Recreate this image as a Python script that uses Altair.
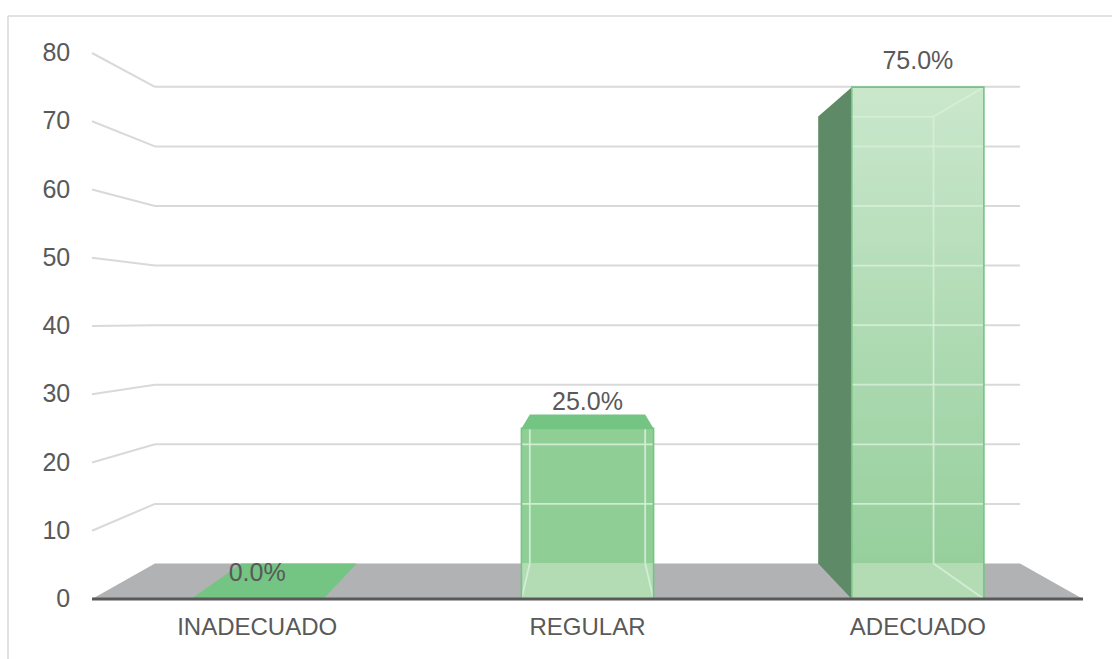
import altair as alt
import pandas as pd

# ---- data -------------------------------------------------------------
categories = ["INADECUADO", "REGULAR", "ADECUADO"]
percentages = [0.0, 25.0, 75.0]
tick_values = [0, 10, 20, 30, 40, 50, 60, 70, 80]
tick_labels = ["0", "10", "20", "30", "40", "50", "60", "70", "80"]

# ---- pseudo-3D geometry (x in category slots, y in value units) -------
BAR_WIDTH = 0.40          # front face width, in slots
DEPTH = 0.873             # back plane scale relative to the front plane
VANISH_X, VANISH_Y = 1.5, 41.0
N_SLOTS = len(categories)

# ---- canvas layout ------------------------------------------------------
W, H = 1104, 643          # plot area (chart border box)
SLOT_PX, UNIT_PX = 330.33, 6.825
ORIGIN_X, ORIGIN_Y = 84, 583   # where (0, 0) of the front plane sits
X_DOMAIN = [-ORIGIN_X / SLOT_PX, (W - ORIGIN_X) / SLOT_PX]
Y_DOMAIN = [-(H - ORIGIN_Y) / UNIT_PX, ORIGIN_Y / UNIT_PX]
Y_LABEL_X = -0.066
CAT_LABEL_Y = -4.2

FONT = "Liberation Sans"
TEXT = "#595959"
GRID = "#d9d9d9"


def back(x, y):
    """Project a front-plane point onto the back plane."""
    return VANISH_X + DEPTH * (x - VANISH_X), VANISH_Y + DEPTH * (y - VANISH_Y)


xs = alt.Scale(domain=X_DOMAIN, nice=False, zero=False)
ys = alt.Scale(domain=Y_DOMAIN, nice=False, zero=False)

# floor
fx0, floor_back = back(0, 0)
fx1, _ = back(N_SLOTS, 0)
floor_df = pd.DataFrame({"y": [0, floor_back], "x": [0, fx0], "x2": [N_SLOTS, fx1]})

# wall grid lines
side_rows, back_rows = [], []
for g in tick_values[1:]:
    bx0, by = back(0, g)
    bx1, _ = back(N_SLOTS, g)
    side_rows.append({"x": 0, "y": g, "x2": bx0, "y2": by})
    back_rows.append({"x": bx0, "y": by, "x2": bx1, "y2": by})
side_df = pd.DataFrame(side_rows)
backgrid_df = pd.DataFrame(back_rows)

# bars
front_rows, band_rows, top_rows, face_rows, inner_rows, label_rows = [], [], [], [], [], []
for i, (cat, v) in enumerate(zip(categories, percentages)):
    c = i + 0.5
    a, b = c - BAR_WIDTH / 2, c + BAR_WIDTH / 2
    a2, y0b = back(a, 0)
    b2, _ = back(b, 0)
    _, vtb = back(a, v)
    label_rows.append({"category": cat, "x": c, "y": v, "label": f"{v:.1f}%"})

    # top face (visible when the top lies below the eye level)
    if v < VANISH_Y:
        top_rows += [{"bar": cat, "y": v, "x": a, "x2": b},
                     {"bar": cat, "y": vtb, "x": a2, "x2": b2}]
    if v <= 0:
        continue

    front_rows.append({"category": cat, "x": a, "x2": b, "y": y0b, "y2": v, "y0": 0})
    band_rows.append({"category": cat, "x": a, "x2": b, "y": 0, "y2": y0b})

    # side faces
    if a > VANISH_X:
        face_rows += [{"bar": cat, "x": a2, "y": y0b, "y2": vtb},
                      {"bar": cat, "x": a, "y": 0, "y2": v}]
    if b < VANISH_X:
        face_rows += [{"bar": cat, "x": b, "y": 0, "y2": v},
                      {"bar": cat, "x": b2, "y": y0b, "y2": vtb}]

    # edges of the far side seen through the translucent front
    top_in = min(vtb, v)
    if a2 > a:
        inner_rows.append({"x": a2, "x2": a2, "y": y0b, "y2": top_in})
        inner_rows.append({"x": a2, "x2": a, "y": y0b, "y2": 0})
        if vtb < v:
            inner_rows.append({"x": a2, "x2": a, "y": vtb, "y2": v})
    if b2 < b:
        inner_rows.append({"x": b2, "x2": b2, "y": y0b, "y2": top_in})
        inner_rows.append({"x": b2, "x2": b, "y": y0b, "y2": 0})
        if vtb < v:
            inner_rows.append({"x": b2, "x2": b, "y": vtb, "y2": v})
    if vtb < v:
        inner_rows.append({"x": max(a, a2), "x2": min(b, b2), "y": vtb, "y2": vtb})
    for g in tick_values[1:]:
        _, gy = back(0, g)
        if y0b < gy < top_in - 0.5:
            inner_rows.append({"x": a, "x2": b, "y": gy, "y2": gy})

front_df = pd.DataFrame(front_rows)
band_df = pd.DataFrame(band_rows)
top_df = pd.DataFrame(top_rows)
face_df = pd.DataFrame(face_rows)
inner_df = pd.DataFrame(inner_rows)
label_df = pd.DataFrame(label_rows)

ticks_df = pd.DataFrame({"y": tick_values, "label": tick_labels, "x": Y_LABEL_X})
cats_df = pd.DataFrame({"x": [i + 0.5 for i in range(N_SLOTS)], "y": CAT_LABEL_Y,
                        "label": categories})
axis_df = pd.DataFrame({"x": [0], "x2": [N_SLOTS], "y": [0]})


def seg(df, color, width, opacity=1.0):
    return alt.Chart(df).mark_rule(color=color, strokeWidth=width, opacity=opacity).encode(
        x=alt.X("x:Q", scale=xs, axis=None), x2="x2:Q",
        y=alt.Y("y:Q", scale=ys, axis=None), y2="y2:Q")


border = alt.layer(
    alt.Chart(axis_df).mark_rule(color=GRID, strokeWidth=1.5).encode(
        x=alt.value(0), y=alt.value(0), y2=alt.value(H)),
    alt.Chart(axis_df).mark_rule(color=GRID, strokeWidth=1.5).encode(
        x=alt.value(0), x2=alt.value(W), y=alt.value(0)),
)

floor = alt.Chart(floor_df).mark_area(orient="horizontal", color="#b1b2b4").encode(
    y=alt.Y("y:Q", scale=ys, axis=None),
    x=alt.X("x:Q", scale=xs, axis=None), x2="x2:Q")

side_grid = seg(side_df, GRID, 2)
back_grid = seg(backgrid_df, GRID, 2)

top_faces = alt.Chart(top_df).mark_area(orient="horizontal", color="#74c483").encode(
    y=alt.Y("y:Q", scale=ys, axis=None),
    x=alt.X("x:Q", scale=xs, axis=None), x2="x2:Q", detail="bar:N")

side_faces = alt.Chart(face_df).mark_area(color="#5f8a67").encode(
    x=alt.X("x:Q", scale=xs, axis=None),
    y=alt.Y("y:Q", scale=ys, axis=None), y2="y2:Q", detail="bar:N")

front_base = alt.Chart(front_df).encode(
    x=alt.X("x:Q", scale=xs, axis=None), x2="x2:Q",
    y=alt.Y("y:Q", scale=ys, axis=None), y2="y2:Q")

front_plain = front_base.mark_rect(color="#8fcf96").transform_filter(
    alt.datum.category != "ADECUADO")

front_light = front_base.mark_rect(
    fill=alt.LinearGradient(
        gradient="linear", x1=0, x2=0, y1=0, y2=1,
        stops=[alt.GradientStop(color="#cae7cc", offset=0),
               alt.GradientStop(color="#96cf9c", offset=1)])
).transform_filter(alt.datum.category == "ADECUADO")

band = alt.Chart(band_df).mark_rect(color="#b3dcb5").encode(
    x=alt.X("x:Q", scale=xs, axis=None), x2="x2:Q",
    y=alt.Y("y:Q", scale=ys, axis=None), y2="y2:Q")

inner = seg(inner_df, "#d6eed7", 1.8, 0.9)

outline = alt.Chart(front_df).mark_rect(
    fillOpacity=0, stroke="#72c582", strokeWidth=1.6).encode(
    x=alt.X("x:Q", scale=xs, axis=None), x2="x2:Q",
    y=alt.Y("y0:Q", scale=ys, axis=None), y2="y2:Q")

axis_line = alt.Chart(axis_df).mark_rule(color="#595959", strokeWidth=3).encode(
    x=alt.X("x:Q", scale=xs, axis=None), x2="x2:Q",
    y=alt.Y("y:Q", scale=ys, axis=None))

tick_text = alt.Chart(ticks_df).mark_text(
    align="right", baseline="middle", font=FONT, fontSize=25, color=TEXT).encode(
    x=alt.X("x:Q", scale=xs, axis=None),
    y=alt.Y("y:Q", scale=ys, axis=None), text="label:N")

cat_text = alt.Chart(cats_df).mark_text(
    align="center", baseline="middle", font=FONT, fontSize=24, color=TEXT).encode(
    x=alt.X("x:Q", scale=xs, axis=None),
    y=alt.Y("y:Q", scale=ys, axis=None), text="label:N")

value_text = alt.Chart(label_df).mark_text(
    align="center", baseline="alphabetic", dy=-18, font=FONT, fontSize=25,
    color=TEXT).encode(
    x=alt.X("x:Q", scale=xs, axis=None),
    y=alt.Y("y:Q", scale=ys, axis=None), text="label:N")

chart = alt.layer(
    border, floor, side_grid, back_grid, top_faces, side_faces,
    front_plain, front_light, band, inner, outline, axis_line,
    tick_text, cat_text, value_text,
).properties(
    width=W, height=H,
    padding={"left": 8, "top": 16, "right": 0, "bottom": 0},
    autosize="none", background="white",
).configure_view(strokeWidth=0)

chart.save("out.html", embed_options={"renderer": "svg", "actions": False})
